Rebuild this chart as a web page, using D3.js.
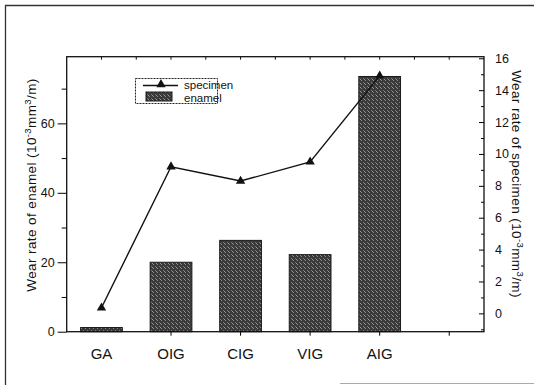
<!DOCTYPE html>
<html><head><meta charset="utf-8">
<script src="https://cdn.jsdelivr.net/npm/d3@7"></script>
<style>body{margin:0;background:#fff}svg{display:block}text{font-family:"Liberation Sans",Arial,sans-serif;fill:#111}</style>
</head><body><svg id="c" width="534" height="385"></svg>
<script>
const categories = ["GA","OIG","CIG","VIG","AIG"];
const slots = ["GA","OIG","CIG","VIG","AIG","_"];
const enamel = [1.2, 20.0, 26.3, 22.2, 73.5];
const specimen = [0.35, 9.2, 8.3, 9.5, 14.9];
const leftTicks = [0,20,40,60];
const rightTicks = [0,2,4,6,8,10,12,14,16];

const svg = d3.select("#c");
const L=66.7, R=484, T=56.7, B=331.7;
const x = d3.scaleBand().domain(slots).range([L,R]).padding(0);
const yL = d3.scaleLinear().domain([0,79.2]).range([B,T]);
const yR = d3.scaleLinear().domain([-1.15,16.1]).range([B,T]);

// outer figure frame
svg.append("path").attr("d","M5.5,385 L5.5,5.5 L534,5.5").attr("fill","none").attr("stroke","#333").attr("stroke-width",1.3);
svg.append("line").attr("x1",340).attr("x2",534).attr("y1",383.5).attr("y2",383.5).attr("stroke","#aaa").attr("stroke-width",1);

// bars
const tex = svg.append("defs").append("pattern").attr("id","tex").attr("width",4).attr("height",4).attr("patternUnits","userSpaceOnUse");
tex.append("rect").attr("width",4).attr("height",4).attr("fill","#3a3a3a");
tex.append("rect").attr("x",1).attr("y",0).attr("width",1).attr("height",1).attr("fill","#8a8a8a");
tex.append("rect").attr("x",3).attr("y",2).attr("width",1).attr("height",1).attr("fill","#777");
tex.append("rect").attr("x",0).attr("y",3).attr("width",1).attr("height",1).attr("fill","#999");
const bw = x.bandwidth()*0.6;
svg.selectAll(".bar").data(categories).enter().append("rect")
  .attr("x",d=>x(d)+x.bandwidth()/2-bw/2).attr("width",bw)
  .attr("y",(d,i)=>yL(enamel[i])).attr("height",(d,i)=>B-yL(enamel[i]))
  .attr("fill","url(#tex)").attr("stroke","#1a1a1a").attr("stroke-width",1);

// frame
svg.append("rect").attr("x",L).attr("y",T).attr("width",R-L).attr("height",B-T).attr("fill","none").attr("stroke","#111").attr("stroke-width",1.3);

// left axis
const gl = svg.append("g").attr("transform",`translate(${L},0)`)
  .call(d3.axisLeft(yL).tickValues(leftTicks).tickSize(9).tickPadding(3).tickFormat(d3.format("d")));
gl.select(".domain").remove();
gl.selectAll("text").style("font-size","12.5px");
svg.append("g").attr("transform",`translate(${L},0)`)
  .call(d3.axisLeft(yL).tickValues([10,30,50,70]).tickSize(5).tickFormat(""))
  .select(".domain").remove();

// right axis
const gr = svg.append("g").attr("transform",`translate(${R},0)`)
  .call(d3.axisRight(yR).tickValues(rightTicks).tickSize(-5).tickPadding(11).tickFormat(d3.format("d")));
gr.select(".domain").remove();
gr.selectAll("text").style("font-size","12.5px");
svg.append("g").attr("transform",`translate(${R},0)`)
  .call(d3.axisRight(yR).tickValues(d3.range(-1,16,2)).tickSize(-3).tickFormat(""))
  .select(".domain").remove();

// bottom axis
const gb = svg.append("g").attr("transform",`translate(0,${B})`)
  .call(d3.axisBottom(x).tickValues(slots.slice(1)).tickSize(4).tickFormat(""));
gb.select(".domain").remove();
categories.forEach(c=>{
  svg.append("text").attr("x",x(c)+x.bandwidth()/2).attr("y",359).attr("text-anchor","middle").style("font-size","15px").text(c);
});
// top small ticks
const topTicks = d3.range(1,12).map(k=>L+k*x.bandwidth()/2);
svg.selectAll(".tt").data(topTicks).enter().append("line")
  .attr("x1",d=>d).attr("x2",d=>d).attr("y1",T).attr("y2",T+3).attr("stroke","#111");

// specimen line
const line = d3.line().x((d,i)=>x(categories[i])+x.bandwidth()/2).y(d=>yR(d));
svg.append("path").datum(specimen).attr("d",line).attr("fill","none").attr("stroke","#111").attr("stroke-width",1.4);
const tri = d3.symbol().type(d3.symbolTriangle).size(38);
svg.selectAll(".pt").data(specimen).enter().append("path").attr("d",tri)
  .attr("transform",(d,i)=>`translate(${x(categories[i])+x.bandwidth()/2},${yR(d)})`).attr("fill","#111");

// axis titles
const sup = 'Wear rate of enamel (10<tspan dy="-5" font-size="9.5">-3</tspan><tspan dy="5">mm</tspan><tspan dy="-5" font-size="9.5">3</tspan><tspan dy="5">/m)</tspan>';
svg.append("text").attr("transform","translate(36,185) rotate(-90)").attr("text-anchor","middle").style("font-size","13.5px").style("letter-spacing","0.4px")
  .html(sup);
svg.append("text").attr("transform","translate(512,184) rotate(90)").attr("text-anchor","middle").style("font-size","13.5px").style("letter-spacing","0.4px")
  .html('Wear rate of specimen (10<tspan dy="-5" font-size="9.5">-3</tspan><tspan dy="5">mm</tspan><tspan dy="-5" font-size="9.5">3</tspan><tspan dy="5">/m)</tspan>');

// legend
svg.append("rect").attr("x",135.5).attr("y",78.5).attr("width",82).attr("height",25).attr("fill","#fff").attr("stroke","#222").attr("stroke-dasharray","2,1");
svg.append("line").attr("x1",143).attr("x2",178).attr("y1",85.5).attr("y2",85.5).attr("stroke","#111").attr("stroke-width",1.4);
svg.append("path").attr("d",tri).attr("transform","translate(161,84.5)").attr("fill","#111");
svg.append("rect").attr("x",146).attr("y",92).attr("width",26).attr("height",9).attr("fill","url(#tex)").attr("stroke","#1a1a1a");
svg.append("text").attr("x",184).attr("y",88.5).style("font-size","11.5px").text("specimen");
svg.append("text").attr("x",184).attr("y",101.5).style("font-size","11.5px").text("enamel");
</script></body></html>
